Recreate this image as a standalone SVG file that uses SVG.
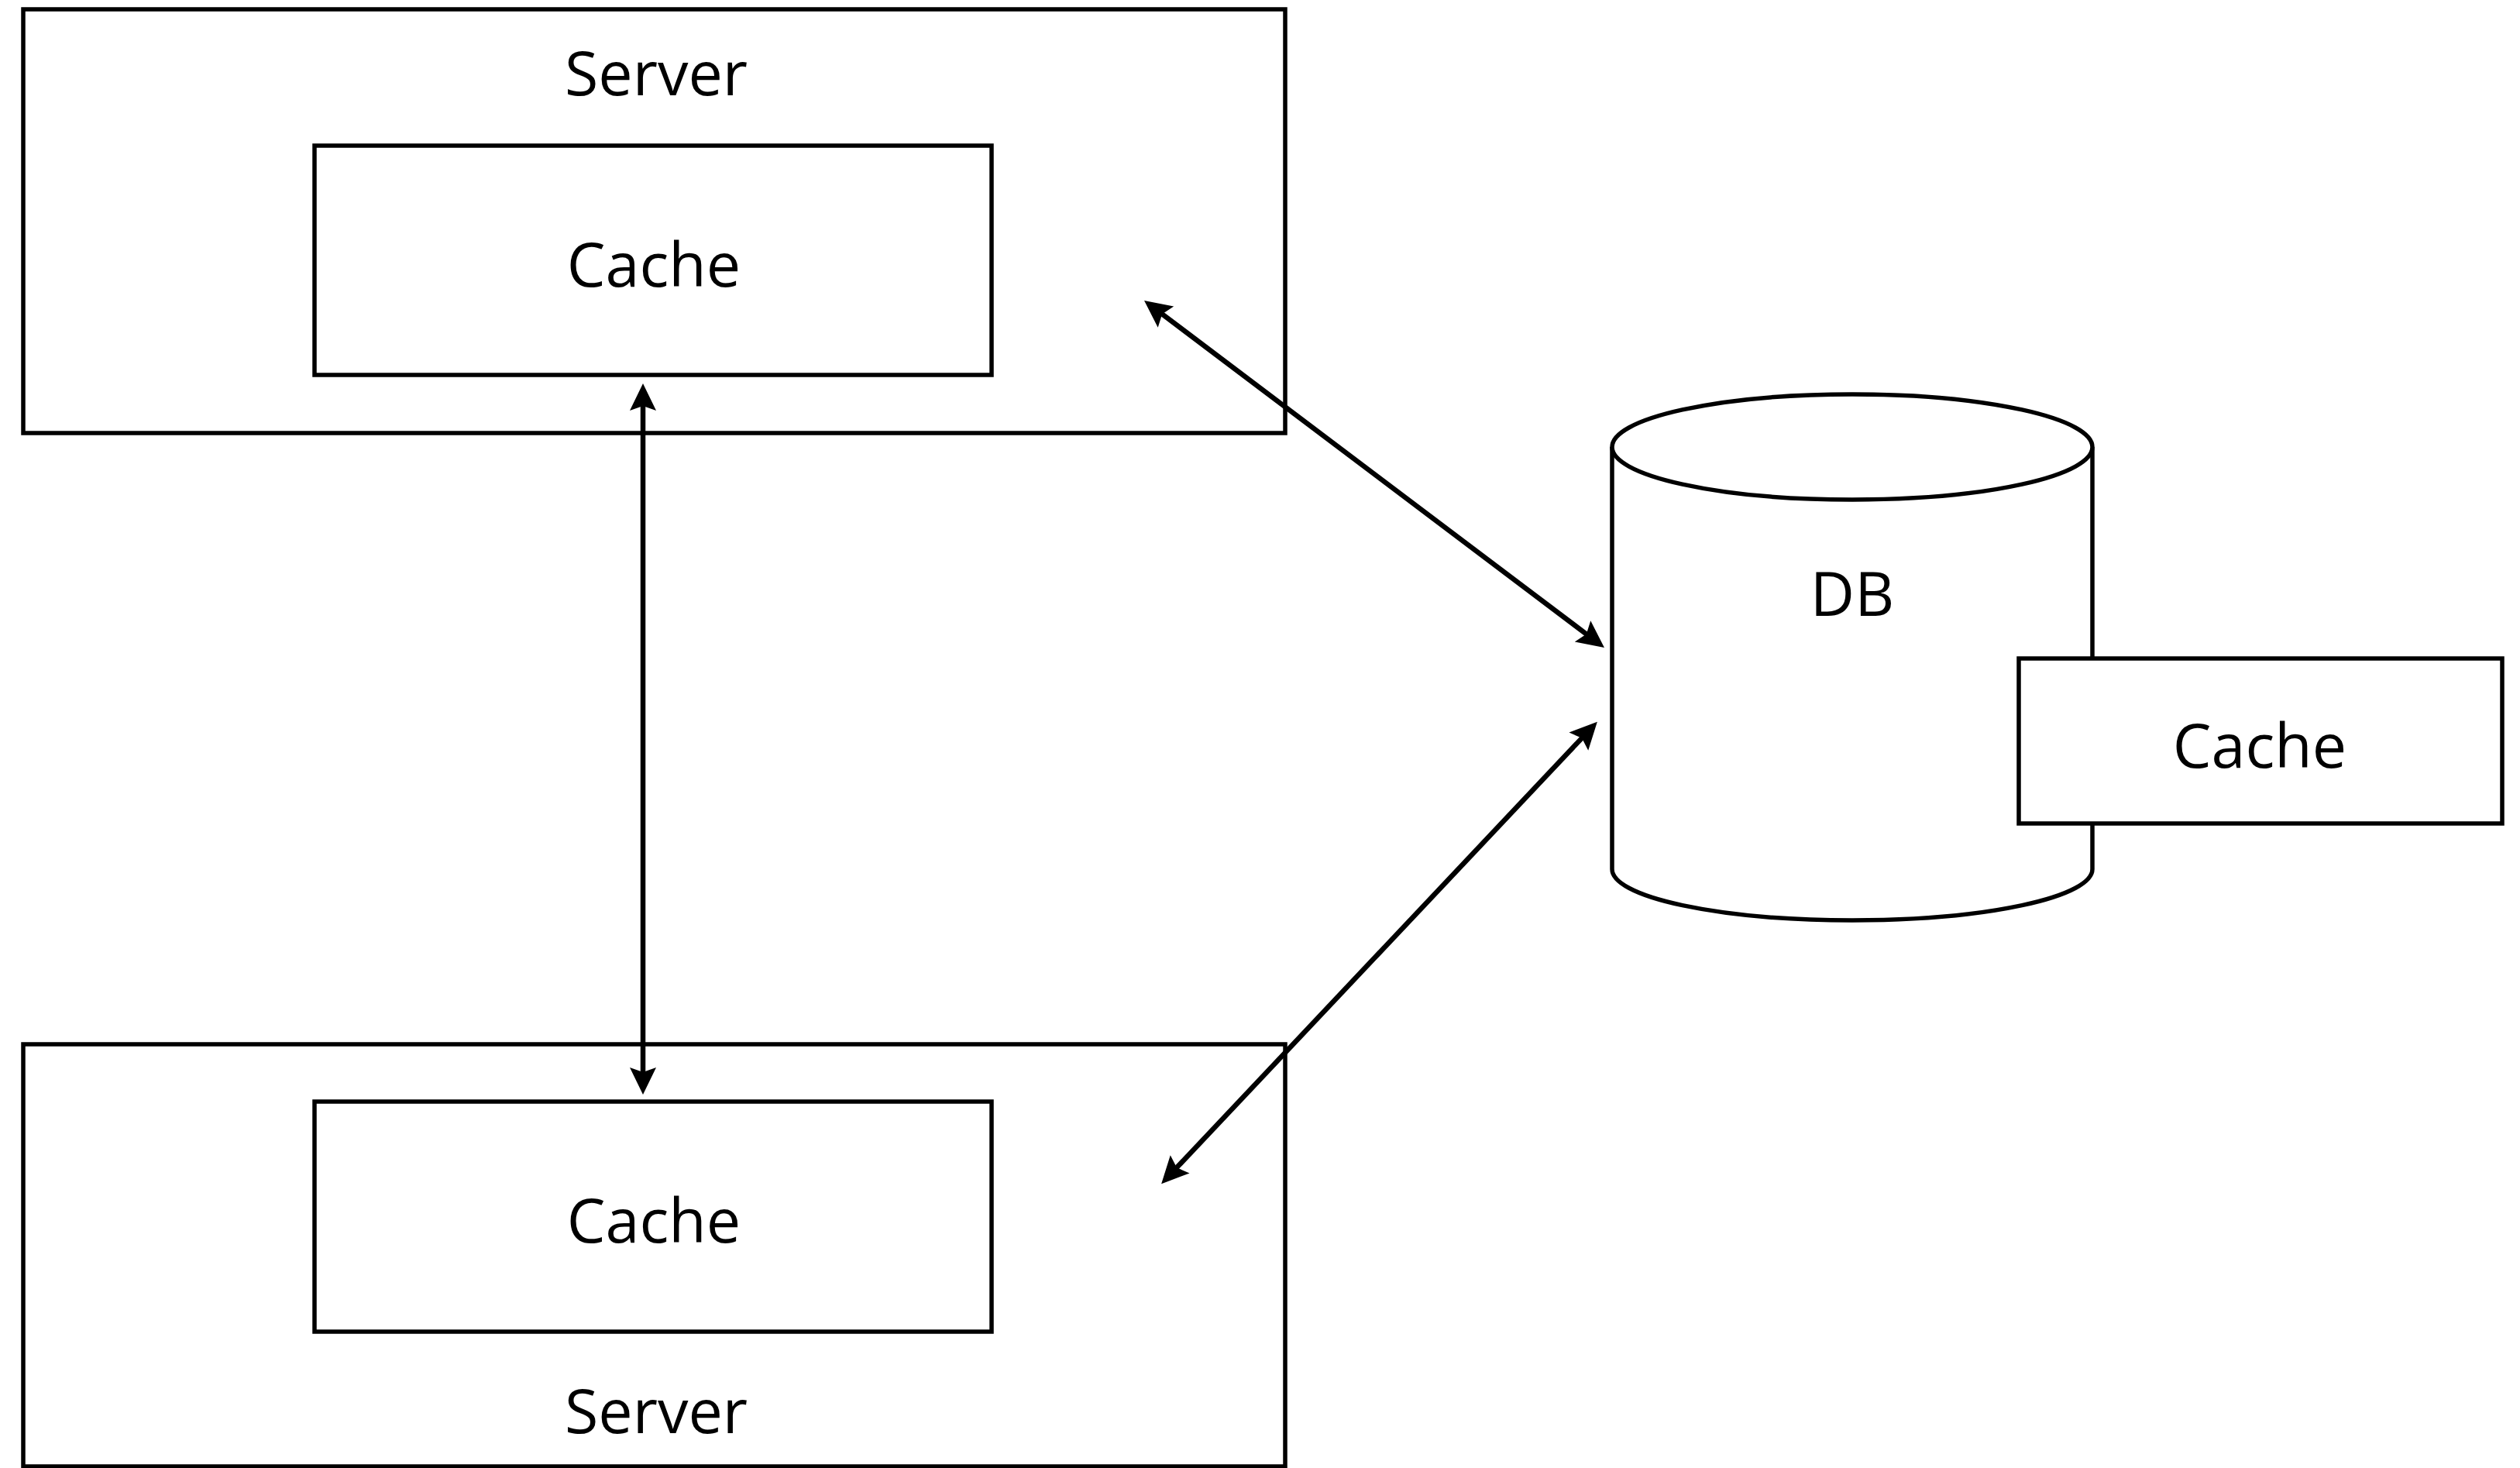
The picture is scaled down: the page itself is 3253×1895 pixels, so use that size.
<svg xmlns="http://www.w3.org/2000/svg" width="3253" height="1895" viewBox="0 0 3253 1895">
<style>
.box{fill:#fff;stroke:#000;stroke-width:5.5}
.lbl{font-family:"Open Sans","Liberation Sans",sans-serif;font-size:79px;fill:#000;text-anchor:middle}
.conn{stroke:#000;stroke-width:6.5;fill:none;marker-start:url(#arr);marker-end:url(#arr)}
</style>
<defs>
<marker id="arr" markerUnits="userSpaceOnUse" viewBox="-30 -20 45 40" markerWidth="45" markerHeight="40" refX="0" refY="0" orient="auto-start-reverse" overflow="visible">
<path d="M10,0 L-25,-17 L-19,0 L-25,17 Z" fill="#000"/>
</marker>
</defs>
<rect width="3253" height="1895" fill="#fff"/>
<g id="server-top">
<rect class="box" x="30" y="12" width="1629" height="547"/>
<text class="lbl" x="847" y="123">Server</text>
</g>
<g id="cache-top">
<rect class="box" x="406" y="188" width="874" height="296"/>
<text class="lbl" x="844" y="370">Cache</text>
</g>
<g id="server-bottom">
<rect class="box" x="30" y="1348" width="1629" height="545"/>
<text class="lbl" x="847" y="1850">Server</text>
</g>
<g id="cache-bottom">
<rect class="box" x="406" y="1422" width="874" height="297"/>
<text class="lbl" x="844" y="1604">Cache</text>
</g>
<g id="db">
<path class="box" d="M2081,577 L2081,1122 A310,66 0 0 0 2701,1122 L2701,577"/>
<ellipse class="box" cx="2391" cy="577" rx="310" ry="68"/>
<text class="lbl" x="2391" y="795">DB</text>
</g>
<g id="cache-db">
<rect class="box" x="2606" y="850" width="624" height="213"/>
<text class="lbl" x="2917" y="991">Cache</text>
</g>
<g id="connectors">
<line class="conn" x1="830" y1="505" x2="830" y2="1403"/>
<line class="conn" x1="1485" y1="394" x2="2063" y2="830"/>
<line class="conn" x1="2055" y1="939" x2="1506" y2="1521"/>
</g>
</svg>
